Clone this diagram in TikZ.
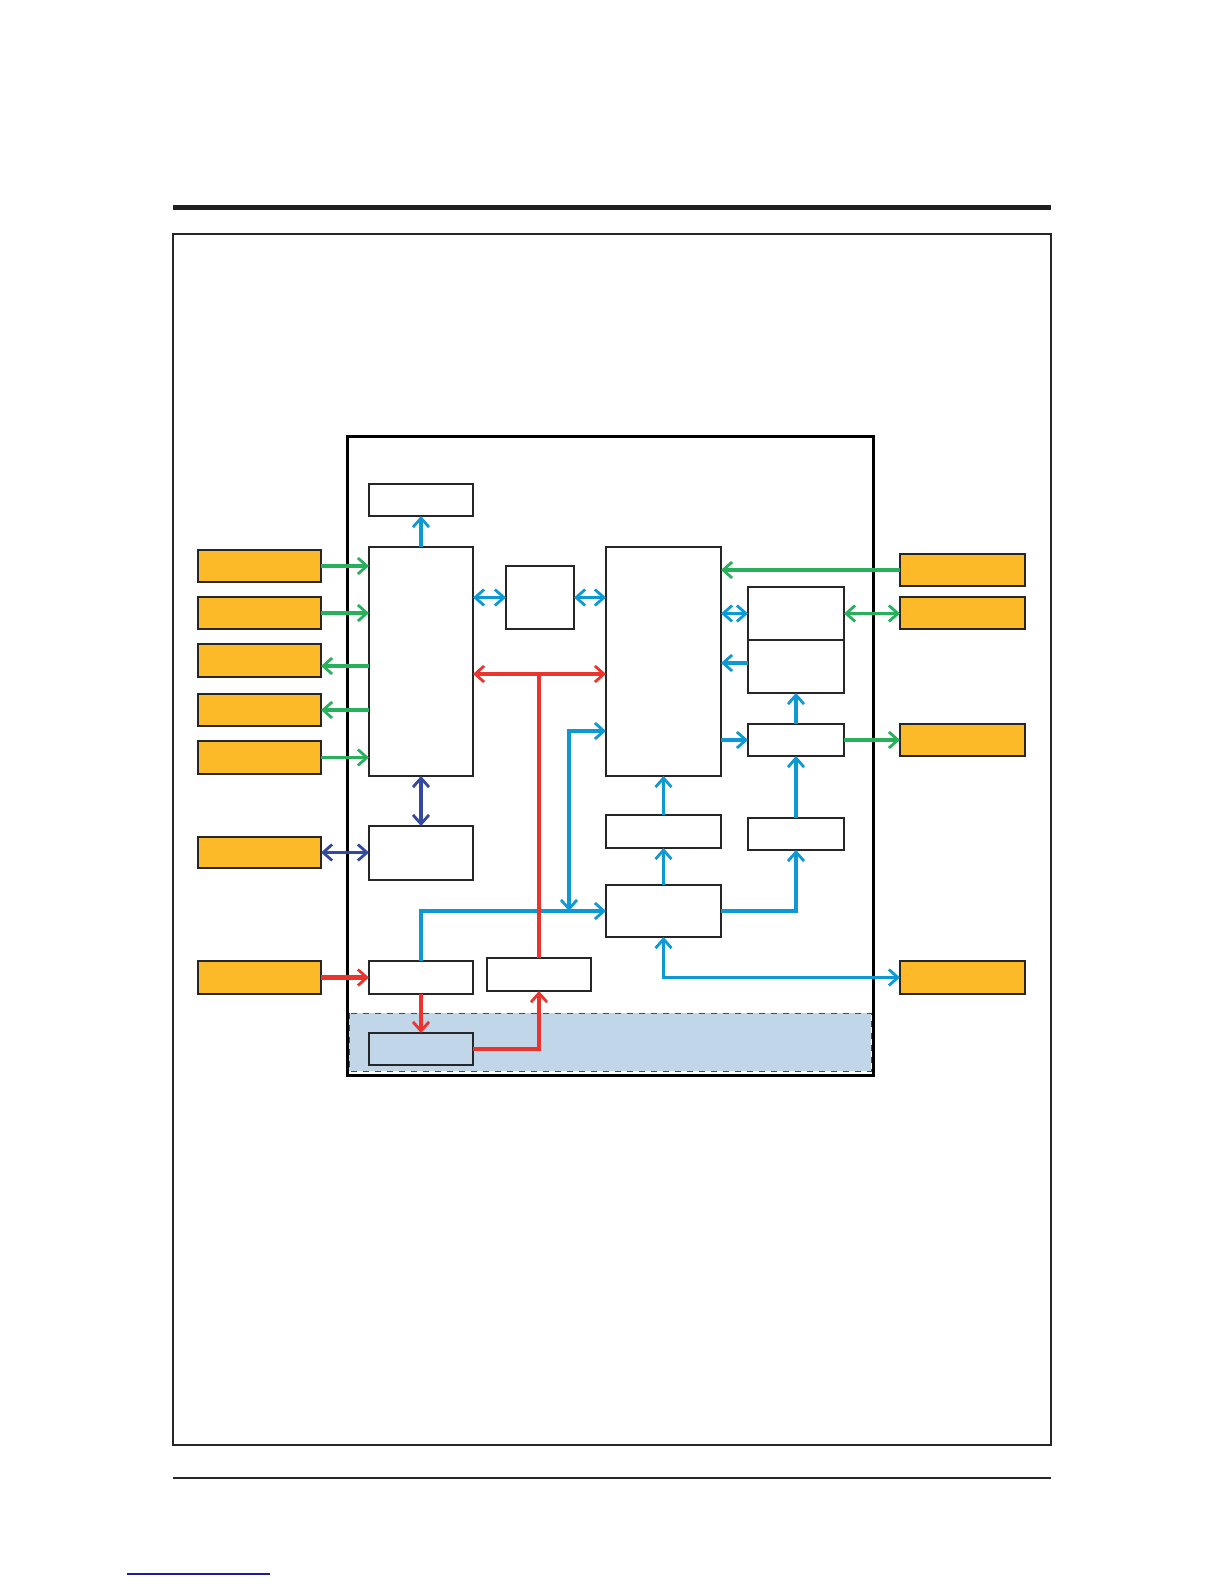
\documentclass[tikz,border=0pt]{standalone}
\usetikzlibrary{arrows.meta,fit}
\definecolor{cgreen}{RGB}{40,176,92}
\definecolor{cblue}{RGB}{14,152,212}
\definecolor{cred}{RGB}{236,52,46}
\definecolor{cdblue}{RGB}{52,72,160}
\definecolor{corange}{RGB}{253,186,40}
\definecolor{carea}{RGB}{193,214,232}
\definecolor{clink}{RGB}{30,30,140}
\tikzset{
  bx/.style={draw=black!85,line width=0.7pt,inner sep=0pt,outer sep=0pt},
  wbox/.style={bx,fill=white},
  obox/.style={bx,fill=corange},
  conn/.style={line width=1.6pt,arrows={-Straight Barb[length=4.5pt,width=8pt,line width=1.4pt]}},
  bconn/.style={line width=1.6pt,arrows={Straight Barb[length=4.5pt,width=8pt,line width=1.4pt]-Straight Barb[length=4.5pt,width=8pt,line width=1.4pt]}},
  gr/.style={draw=cgreen},
  bl/.style={draw=cblue},
  rd/.style={draw=cred},
  db/.style={draw=cdblue},
}
\begin{document}
\begin{tikzpicture}[x=0.5pt,y=-0.5pt]
\useasboundingbox (0,0) rectangle (1224,1584);
% page decorations
\fill[black!88] (173,205) rectangle (1051,210);
\draw[black!85,line width=0.6pt] (173,234) rectangle (1051,1445);
\draw[black!85,line width=1.4pt] (173,1478) -- (1051,1478);
\draw[clink,line width=0.6pt] (127,1574) -- (270,1574);
% inner frame and shaded area
\draw[black,line width=1.5pt] (347,436) rectangle (873,1075);
\filldraw[fill=carea,draw=black!70,dashed,line width=0.5pt] (349,1013) rectangle (871,1071);
% inner boxes
\node[wbox,fit={(369,484) (473,516)}] (T) {};
\node[wbox,fit={(369,547) (473,776)}] (A) {};
\node[wbox,fit={(506,566) (574,629)}] (B) {};
\node[wbox,fit={(606,547) (721,776)}] (C) {};
\node[wbox,fit={(748,587) (844,640)}] (D) {};
\node[wbox,fit={(748,640) (844,693)}] (E) {};
\node[wbox,fit={(748,724) (844,756)}] (F) {};
\node[wbox,fit={(606,815) (721,848)}] (H) {};
\node[wbox,fit={(748,818) (844,850)}] (I) {};
\node[wbox,fit={(606,885) (721,937)}] (J) {};
\node[wbox,fit={(369,826) (473,880)}] (K) {};
\node[wbox,fit={(369,961) (473,994)}] (G) {};
\node[wbox,fit={(487,958) (591,991)}] (L) {};
\node[bx,fit={(369,1033) (473,1065)}] (M) {};
% outer orange boxes
\node[obox,fit={(198,550) (321,582)}] (L1) {};
\node[obox,fit={(198,597) (321,629)}] (L2) {};
\node[obox,fit={(198,644) (321,677)}] (L3) {};
\node[obox,fit={(198,694) (321,726)}] (L4) {};
\node[obox,fit={(198,741) (321,774)}] (L5) {};
\node[obox,fit={(198,837) (321,868)}] (L6) {};
\node[obox,fit={(198,961) (321,994)}] (L7) {};
\node[obox,fit={(900,554) (1025,586)}] (R1) {};
\node[obox,fit={(900,597) (1025,629)}] (R2) {};
\node[obox,fit={(900,724) (1025,756)}] (R3) {};
\node[obox,fit={(900,961) (1025,994)}] (R4) {};
% coordinates
\coordinate (rj) at (539,674);
\coordinate (bj) at (569,911);
\coordinate (bc) at (569,731);
% green connectors
\draw[conn,gr] (L1.east) -- (L1.east -| A.west);
\draw[conn,gr] (L2.east) -- (L2.east -| A.west);
\draw[conn,gr] (A.west |- 0,666) -- (L3.east |- 0,666);
\draw[conn,gr] (L4.east -| A.west) -- (L4.east);
\draw[conn,gr] (L5.east) -- (L5.east -| A.west);
\draw[conn,gr] (R1.west) -- (R1.west -| C.east);
\draw[bconn,gr] (D.east) -- (D.east -| R2.west);
\draw[conn,gr] (F.east) -- (R3.west);
% dark blue connectors
\draw[bconn,db] (A.south) -- (K.north);
\draw[bconn,db] (L6.east) -- (L6.east -| K.west);
% blue connectors
\draw[conn,bl] (A.north) -- (T.south);
\draw[bconn,bl] (A.east |- B.west) -- (B.west);
\draw[bconn,bl] (B.east) -- (B.east -| C.west);
\draw[conn,bl] (G.north) |- (J.west);
\draw[bconn,bl] (bj) -- (bc) -- (C.west |- bc);
\draw[conn,bl] (J.north) -- (H.south);
\draw[conn,bl] (H.north) -- (C.south);
\draw[conn,bl] (J.east) -| (I.south);
\draw[conn,bl] (I.north) -- (F.south);
\draw[conn,bl] (F.north) -- (E.south);
\draw[conn,bl] (C.east |- F.west) -- (F.west);
\draw[conn,bl] (E.west |- 0,663) -- (C.east |- 0,663);
\draw[bconn,bl] (C.east |- D.west) -- (D.west);
\draw[bconn,bl] (J.south) |- (R4.west);
% red connectors
\draw[bconn,rd] (A.east |- rj) -- (C.west |- rj);
\draw[line width=1.6pt,rd] (L.north) -- (rj);
\draw[conn,rd,line width=2.2pt] (L7.east) -- (G.west);
\draw[conn,rd] (G.south) -- (M.north);
\draw[conn,rd] (M.east) -| (L.south);
\end{tikzpicture}
\end{document}
